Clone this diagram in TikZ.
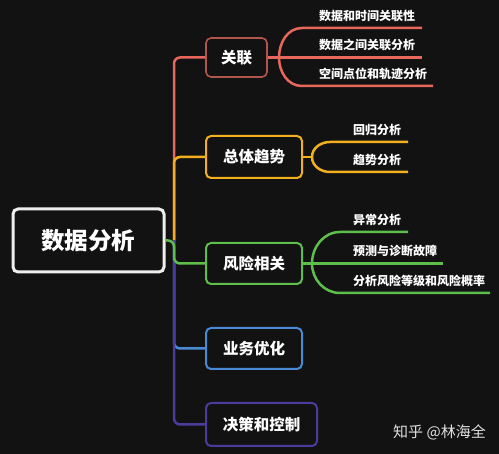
\documentclass[tikz,border=0pt]{standalone}
\usepackage{fontspec}
\setmainfont{Noto Sans CJK SC}
\definecolor{bgc}{HTML}{121212}
\definecolor{rootc}{HTML}{EEEEEE}
\definecolor{redc}{HTML}{E8675B}
\definecolor{redbox}{HTML}{B0564D}
\definecolor{orangec}{HTML}{F2B01E}
\definecolor{greenc}{HTML}{5DBE4B}
\definecolor{bluec}{HTML}{4A8AD4}
\definecolor{purplec}{HTML}{4A3C9C}
\definecolor{markc}{HTML}{E0E0E0}
\begin{document}
\begin{tikzpicture}[x=1pt,y=-1pt,
  box/.style={draw, rounded corners=5pt, line width=2pt, text=white, inner sep=0pt,
    font=\fontsize{15.5}{16}\selectfont\bfseries},
  conn/.style={line width=2.5pt, rounded corners=6pt},
  subl/.style={line width=2.5pt},
  leaf/.style={anchor=base west, inner sep=0pt, text=white, font=\fontsize{12}{12}\selectfont\bfseries}]
\fill[bgc] (0,0) rectangle (499,454);
\useasboundingbox (0,0) rectangle (499,454);

% main nodes
\node[box, draw=rootc, line width=3pt, minimum width=151pt, minimum height=63pt,
  font=\fontsize{23.5}{24}\selectfont\bfseries] (root) at (88.5,240.5) {数据分析};
\node[box, draw=redbox, line width=1.6pt, minimum width=61pt, minimum height=39pt] (c1) at (236.5,57.5) {关联};
\node[box, draw=orangec, minimum width=96pt, minimum height=42pt] (c2) at (254,157) {总体趋势};
\node[box, draw=greenc, minimum width=96pt, minimum height=41pt] (c3) at (254,263.5) {风险相关};
\node[box, draw=bluec, minimum width=96pt, minimum height=41pt] (c4) at (254,348.5) {业务优化};
\node[box, draw=purplec, minimum width=111pt, minimum height=43pt] (c5) at (261.5,424.5) {决策和控制};

% trunk connectors
\coordinate (trunk) at (174,240.5);
\draw[conn, redc] (trunk) |- (c1.west);
\draw[conn, orangec] (trunk) |- (c2.west);
\draw[conn, bluec] (trunk) |- (c4.west);
\draw[conn, purplec] (trunk) |- (c5.west);
\draw[conn, greenc] (root.east) -- (trunk) |- (c3.west);

% red leaves
\coordinate (rf) at (279,57.5);
\coordinate (rb1) at (302,28);
\coordinate (rb3) at (302,86);
\coordinate (r1) at (422,28);
\coordinate (r2) at (422,57.5);
\coordinate (r3) at (433,86);
\draw[subl, redc] (c1.east) -- (rf) -- (r2);
\draw[subl, redc] (rf) to[out=90,in=180] (rb1) -- (r1);
\draw[subl, redc] (rf) to[out=-90,in=180] (rb3) -- (r3);
\node[leaf] (t11) at (319,20.5) {数据和时间关联性};
\node[leaf] (t12) at (319,50) {数据之间关联分析};
\node[leaf] (t13) at (319,78.5) {空间点位和轨迹分析};

% orange leaves
\coordinate (of) at (312,157);
\coordinate (ob1) at (330,142);
\coordinate (ob2) at (330,172);
\coordinate (o1) at (408,142);
\coordinate (o2) at (408,172);
\draw[subl, orangec] (c2.east) -- (of);
\draw[subl, orangec] (of) to[out=90,in=180] (ob1) -- (o1);
\draw[subl, orangec] (of) to[out=-90,in=180] (ob2) -- (o2);
\node[leaf] (t21) at (353,134.5) {回归分析};
\node[leaf] (t22) at (353,164.5) {趋势分析};

% green leaves
\coordinate (gf) at (312,263.5);
\coordinate (gb1) at (340,232);
\coordinate (gb3) at (340,293);
\coordinate (g1) at (408,232);
\coordinate (g2) at (443,263.5);
\coordinate (g3) at (490,293);
\draw[subl, greenc] (c3.east) -- (gf) -- (g2);
\draw[subl, greenc] (gf) to[out=90,in=180] (gb1) -- (g1);
\draw[subl, greenc] (gf) to[out=-90,in=180] (gb3) -- (g3);
\node[leaf] (t31) at (353,224.5) {异常分析};
\node[leaf] (t32) at (353,256) {预测与诊断故障};
\node[leaf] (t33) at (353,285.5) {分析风险等级和风险概率};

% watermark
\node[anchor=base west, inner sep=0pt, text=markc, font=\fontsize{15}{15}\selectfont] (mark) at (393,438) {知乎 @林海全};
\end{tikzpicture}
\end{document}
